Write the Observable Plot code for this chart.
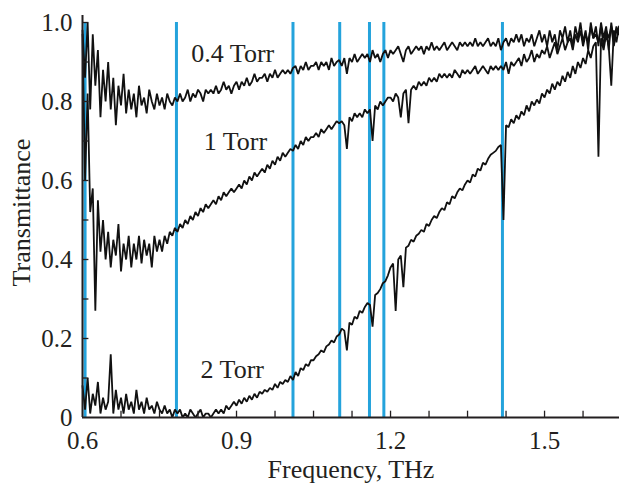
<!DOCTYPE html>
<html><head><meta charset="utf-8">
<script src="https://cdn.jsdelivr.net/npm/d3@7"></script>
<script src="https://cdn.jsdelivr.net/npm/@observablehq/plot@0.6"></script>
<style>
html,body{margin:0;padding:0;background:#fff;overflow:hidden}
</style>
</head><body><div id="chart"></div>
<script>
// Sampling grid of the spectra (THz)
const freqStart = 0.6, freqStep = 0.005;

// Transmittance, one value per 0.005 THz from 0.600
const torr04 = [
 0.98,0.86,1.0,0.78,0.97,0.84,0.93,0.76,0.88,0.80,
 0.90,0.78,0.86,0.74,0.84,0.79,0.87,0.77,0.83,0.78,
 0.82,0.76,0.84,0.79,0.81,0.77,0.83,0.80,0.78,0.82,
 0.79,0.81,0.78,0.82,0.80,0.79,0.81,0.80,0.82,0.80,
 0.81,0.83,0.80,0.82,0.81,0.83,0.82,0.80,0.83,0.82,
 0.83,0.82,0.84,0.82,0.83,0.85,0.83,0.84,0.82,0.84,
 0.85,0.83,0.85,0.84,0.86,0.84,0.85,0.87,0.85,0.86,
 0.86,0.87,0.85,0.87,0.86,0.88,0.86,0.87,0.88,0.87,
 0.88,0.87,0.885,0.89,0.87,0.89,0.88,0.90,0.88,0.89,
 0.89,0.90,0.88,0.90,0.89,0.90,0.88,0.91,0.89,0.90,
 0.905,0.89,0.91,0.87,0.91,0.90,0.92,0.90,0.91,0.92,
 0.91,0.92,0.90,0.93,0.91,0.92,0.90,0.92,0.93,0.91,
 0.93,0.92,0.93,0.94,0.92,0.90,0.93,0.94,0.92,0.93,
 0.94,0.93,0.94,0.92,0.94,0.93,0.95,0.93,0.94,0.93,
 0.94,0.95,0.93,0.94,0.95,0.94,0.93,0.95,0.94,0.95,
 0.94,0.95,0.94,0.96,0.94,0.95,0.94,0.95,0.96,0.94,
 0.95,0.94,0.96,0.93,0.95,0.96,0.94,0.96,0.95,0.97,
 0.95,0.97,0.94,0.96,0.95,0.97,0.94,0.96,0.98,0.95,
 0.97,0.94,0.98,0.95,0.97,0.93,0.98,0.96,0.99,0.95,
 0.98,0.94,0.99,0.96,1.0,0.95,0.98,0.93,1.0,0.96,
 0.99,0.94,1.0,0.96,0.99,0.93,1.0,0.95,0.99,0.97
];
const torr1 = [
 0.97,0.60,0.82,0.52,0.58,0.27,0.55,0.42,0.50,0.40,
 0.47,0.38,0.45,0.41,0.49,0.37,0.44,0.40,0.46,0.38,
 0.44,0.40,0.46,0.39,0.45,0.41,0.44,0.38,0.46,0.42,
 0.45,0.42,0.46,0.44,0.47,0.46,0.48,0.47,0.49,0.48,
 0.50,0.49,0.51,0.50,0.52,0.51,0.53,0.52,0.54,0.53,
 0.54,0.55,0.54,0.56,0.55,0.57,0.56,0.57,0.58,0.57,
 0.58,0.59,0.58,0.60,0.59,0.61,0.60,0.62,0.61,0.62,
 0.63,0.62,0.64,0.63,0.65,0.64,0.66,0.65,0.67,0.66,
 0.67,0.68,0.675,0.69,0.68,0.70,0.69,0.71,0.70,0.71,
 0.71,0.72,0.71,0.73,0.72,0.73,0.74,0.73,0.74,0.75,
 0.745,0.75,0.74,0.68,0.76,0.75,0.77,0.76,0.77,0.76,
 0.78,0.77,0.78,0.70,0.79,0.78,0.80,0.79,0.80,0.81,
 0.81,0.80,0.82,0.81,0.76,0.82,0.83,0.745,0.83,0.84,
 0.83,0.85,0.84,0.85,0.84,0.86,0.85,0.86,0.85,0.87,
 0.86,0.87,0.86,0.87,0.86,0.88,0.87,0.86,0.88,0.87,
 0.88,0.87,0.88,0.89,0.87,0.88,0.89,0.88,0.87,0.89,
 0.88,0.89,0.88,0.89,0.88,0.90,0.87,0.90,0.89,0.90,
 0.91,0.89,0.92,0.90,0.91,0.93,0.90,0.92,0.91,0.93,
 0.92,0.94,0.91,0.93,0.95,0.92,0.94,0.96,0.93,0.95,
 0.96,0.93,0.97,0.95,0.98,0.94,0.97,0.95,0.99,0.96,
 0.97,0.95,0.99,0.94,0.98,0.96,0.99,0.94,0.98,0.97
];
const torr2 = [
 0.08,0.02,0.10,0.01,0.06,0.03,0.09,0.01,0.05,0.02,
 0.04,0.16,0.01,0.07,0.02,0.05,0.01,0.06,0.02,0.04,
 0.01,0.07,0.02,0.04,0.01,0.05,0.02,0.03,0.01,0.04,
 0.02,0.01,0.03,0.01,0.02,0.00,0.02,0.01,0.02,0.00,
 0.01,0.00,0.02,0.01,0.00,0.01,0.02,0.00,0.01,0.01,
 0.00,0.01,0.02,0.01,0.02,0.01,0.03,0.02,0.03,0.04,
 0.03,0.045,0.035,0.05,0.04,0.055,0.045,0.06,0.05,0.065,
 0.06,0.07,0.065,0.075,0.07,0.085,0.075,0.09,0.085,0.095,
 0.09,0.105,0.095,0.115,0.105,0.125,0.12,0.135,0.13,0.145,
 0.145,0.155,0.16,0.17,0.165,0.18,0.185,0.195,0.19,0.205,
 0.21,0.225,0.22,0.17,0.24,0.235,0.255,0.25,0.27,0.265,
 0.28,0.29,0.285,0.23,0.31,0.315,0.325,0.34,0.345,0.36,
 0.38,0.39,0.27,0.40,0.41,0.33,0.43,0.435,0.45,0.445,
 0.46,0.465,0.475,0.47,0.49,0.485,0.50,0.51,0.505,0.52,
 0.53,0.525,0.545,0.54,0.56,0.555,0.57,0.58,0.575,0.59,
 0.60,0.595,0.615,0.61,0.63,0.625,0.645,0.64,0.655,0.665,
 0.67,0.675,0.685,0.69,0.50,0.74,0.735,0.755,0.745,0.765,
 0.755,0.775,0.765,0.79,0.775,0.80,0.79,0.805,0.795,0.82,
 0.81,0.83,0.82,0.845,0.83,0.85,0.84,0.865,0.85,0.875,
 0.86,0.89,0.87,0.90,0.885,0.91,0.895,0.93,0.91,0.94,
 0.95,0.66,0.96,0.93,0.97,0.94,0.84,0.98,0.95,0.99
];

// Blue reference lines (THz)
const lineFreqs = [0.605, 0.783, 1.010, 1.101, 1.159, 1.187, 1.418];

// Curve annotations
const curveLabels = ["0.4 Torr", "1 Torr", "2 Torr"];
const labelFreq = [0.812, 0.836, 0.830];
const labelTrans = [0.921, 0.698, 0.12];

// Axes
const xTickValues = [0.6, 0.9, 1.2, 1.5];
const xTickText = ["0.6", "0.9", "1.2", "1.5"];
const xMinorTicks = [0.675, 0.75, 0.825, 0.9, 0.975, 1.05, 1.125, 1.2, 1.275, 1.35, 1.425, 1.5, 1.575];
const yTickValues = [0, 0.2, 0.4, 0.6, 0.8, 1.0];
const yTickText = ["0", "0.2", "0.4", "0.6", "0.8", "1.0"];
const yMinorTicks = [0.1, 0.2, 0.3, 0.4, 0.5, 0.6, 0.7, 0.8, 0.9, 1.0];
const xTitle = "Frequency, THz";
const yTitle = "Transmittance";

const series = [["0.4 Torr", torr04], ["1 Torr", torr1], ["2 Torr", torr2]];
const rows = series.flatMap(([name, vals]) =>
  vals.map((v, i) => ({f: freqStart + i * freqStep, t: v, series: name})));

const font = "'Liberation Serif','Times New Roman',serif";
const ink = "#231f20";

const chart = Plot.plot({
  width: 619, height: 487,
  marginLeft: 82, marginRight: 0, marginTop: 15, marginBottom: 70,
  x: {domain: [0.6, 1.646], range: [82, 619], axis: null},
  y: {domain: [0, 1], range: [417, 22], axis: null},
  style: {background: "#fff"},
  marks: [
    Plot.ruleX(lineFreqs, {x: d => d, y1: 0, y2: 1, stroke: "#24a3dc", strokeWidth: 3}),
    Plot.line(rows, {x: "f", y: "t", z: "series", stroke: "#111", strokeWidth: 1.8, strokeLinejoin: "miter"}),
    Plot.ruleY([0], {x1: 0.6, x2: 1.646, stroke: ink, strokeWidth: 2}),
    Plot.ruleX([0.6], {y1: 0, y2: 1.018, stroke: ink, strokeWidth: 2}),
    Plot.ruleX(xMinorTicks, {x: d => d, y1: 0, y2: 0.016, stroke: ink, strokeWidth: 1.3}),
    Plot.ruleY(yMinorTicks, {y: d => d, x1: 0.6, x2: 0.6125, stroke: ink, strokeWidth: 1.3}),
    Plot.text(xTickValues, {x: d => d, y: 0, dy: 23, text: (d, i) => xTickText[i], fontSize: 25, fontFamily: font, fill: ink}),
    Plot.text(yTickValues, {x: 0.6, y: d => d, dx: -10, textAnchor: "end", text: (d, i) => yTickText[i], fontSize: 25, fontFamily: font, fill: ink}),
    Plot.text([xTitle], {x: 1.123, y: 0, dy: 52, text: d => d, fontSize: 26, fontFamily: font, fill: ink}),
    Plot.text([yTitle], {x: 0.6, y: 0.519, dx: -61, rotate: -90, text: d => d, fontSize: 26, fontFamily: font, fill: ink}),
    Plot.text(curveLabels, {x: (d, i) => labelFreq[i], y: (d, i) => labelTrans[i], text: d => d, textAnchor: "start", fontSize: 26, fontFamily: font, fill: ink})
  ]
});
document.getElementById("chart").appendChild(chart);
</script>
</body></html>
